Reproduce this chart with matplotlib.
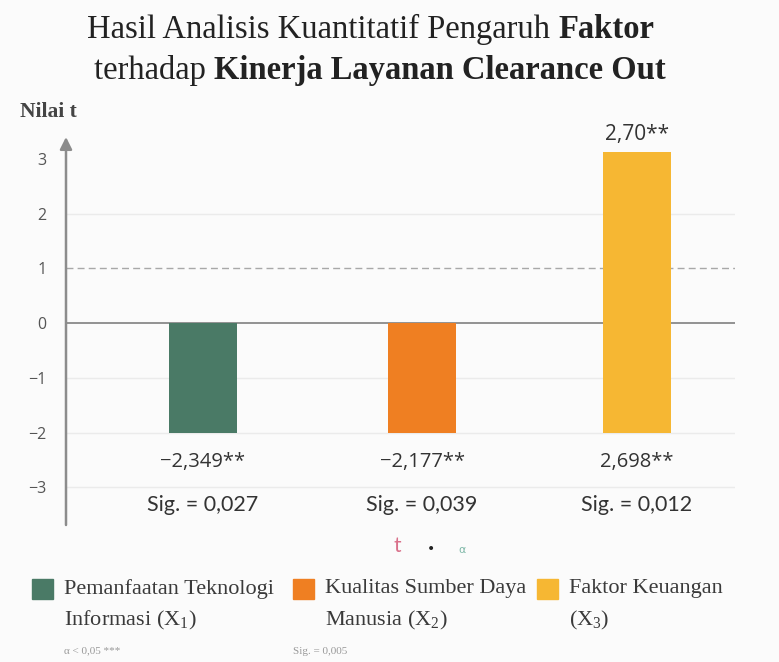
import matplotlib
matplotlib.use('Agg')
import matplotlib.pyplot as plt

plt.rcParams['mathtext.fontset'] = 'stix'

# Data
factors = ['Pemanfaatan Teknologi\nInformasi ($\\mathregular{X_1}$)',
           'Kualitas Sumber Daya\nManusia ($\\mathregular{X_2}$)',
           'Faktor Keuangan\n($\\mathregular{X_3}$)']
bar_low = [-2.0, -2.0, -2.0]
bar_high = [0.0, 0.0, 3.12]
t_labels = ['\u22122,349**', '\u22122,177**', '2,698**']
sig_labels = ['Sig. = 0,027', 'Sig. = 0,039', 'Sig. = 0,012']
top_label = '2,70**'
yticks = [-3, -2, -1, 0, 1, 2, 3]
colors = ['#4a7a66', '#ef7f22', '#f6b733']

W, H = 779, 662
fig = plt.figure(figsize=(W / 100, H / 100), dpi=100)
fig.patch.set_facecolor('#fbfbfb')

# axes placed in pixel terms: x from 66 to 735, y from 137 to 525
ax = fig.add_axes([66 / W, 1 - 525 / H, (735 - 66) / W, (525 - 137) / H])
ax.set_facecolor('none')
ax.set_xlim(-0.631, 2.452)
ax.set_ylim(-3.69, 3.40)

for y in yticks:
    if y == 1:
        ax.axhline(y, color='#a8a8a8', lw=1.0, ls=(0, (5, 3)), zorder=1)
    elif y == 0:
        ax.axhline(y, color='#8a8a8a', lw=1.3, zorder=1)
    elif y != 3:
        ax.axhline(y, color='#ebebeb', lw=1.0, zorder=1)

xs = [0, 1.01, 2]
heights = [h - l for h, l in zip(bar_high, bar_low)]
ax.bar(xs, heights, bottom=bar_low, width=0.313, color=colors, zorder=2)

serif = 'Liberation Serif'
sans = 'Lato'
for x, tl, sl in zip(xs, t_labels, sig_labels):
    ax.text(x, -2.54, tl, ha='center', va='center', fontsize=14.5,
            family='Open Sans', color='#333333')
    ax.text(x, -3.33, sl, ha='center', va='center', fontsize=15.5,
            family=sans, color='#333333')
ax.text(2, 3.45, top_label, ha='center', va='center', fontsize=15,
        family='Open Sans', color='#333333', clip_on=False)

ax.set_yticks(yticks)
ax.set_yticklabels([str(v).replace('-', '\u2212') for v in yticks],
                   family='Open Sans', fontsize=11.5, color='#555555')
ax.tick_params(axis='y', length=0, pad=14)
ax.set_xticks([])
for s in ax.spines.values():
    s.set_visible(False)

# y axis with arrow
ax.annotate('', xy=(0, 1.0), xytext=(0, 0), xycoords='axes fraction',
            arrowprops=dict(arrowstyle='-|>', color='#8c8c8c', lw=1.8,
                            mutation_scale=18, shrinkA=0, shrinkB=0))

fig.text(20 / W, 1 - 112 / H, 'Nilai t', fontsize=15.5, family=serif,
         weight='bold', color='#444444', va='center', ha='left')

# title with bold parts
title_lines = [[('Hasil Analisis Kuantitatif Pengaruh ', 'normal'), ('Faktor', 'bold')],
               [('terhadap ', 'normal'), ('Kinerja Layanan Clearance Out', 'bold')]]
title_y = [29, 71]
title_cx = [371, 380]
renderer = fig.canvas.get_renderer()
for parts, ty, cx in zip(title_lines, title_y, title_cx):
    objs = []
    for txt, wt in parts:
        t = fig.text(0, 1 - ty / H, txt, fontsize=23.5, family=serif,
                     weight=wt, color='#222222', va='center', ha='left')
        objs.append(t)
    widths = [o.get_window_extent(renderer).width for o in objs]
    x0 = cx - sum(widths) / 2
    for o, w in zip(objs, widths):
        o.set_x(x0 / W)
        x0 += w

# small symbols under the chart
fig.text(397 / W, 1 - 546 / H, 't', color='#d9708a', fontsize=15,
         family=sans, ha='center', va='center')
fig.text(431 / W, 1 - 549 / H, '\u2022', color='#222222', fontsize=10,
         ha='center', va='center')
fig.text(462 / W, 1 - 550 / H, '\u03b1', color='#7fb8a8', fontsize=8,
         ha='center', va='center')

# legend
leg_x = [32, 293, 537]
for lx, name, c in zip(leg_x, factors, colors):
    fig.patches.append(plt.Rectangle((lx / W, 1 - 599 / H), 21 / W, 20 / H,
                                     transform=fig.transFigure, color=c))
    for line, ly in zip(name.split('\n'), [589, 620]):
        fig.text((lx + 32) / W, 1 - ly / H, line, fontsize=16, family=serif,
                 color='#3a3a3a', va='center', ha='left')

fig.text(64 / W, 1 - 651 / H, '\u03b1 < 0,05 ***', fontsize=8, family=serif,
         color='#999999', va='center')
fig.text(293 / W, 1 - 651 / H, 'Sig. = 0,005', fontsize=8, family=serif,
         color='#999999', va='center')

fig.savefig('out.png', dpi=100, facecolor=fig.get_facecolor())
